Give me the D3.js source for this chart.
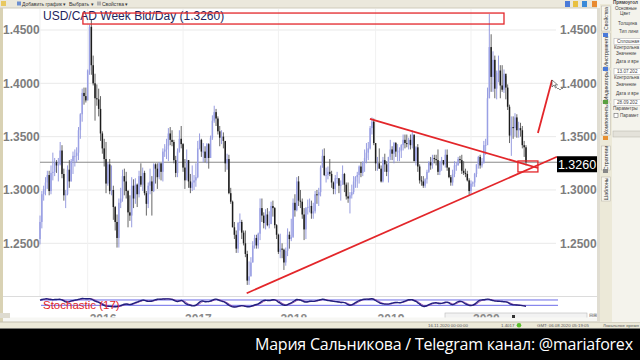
<!DOCTYPE html>
<html>
<head>
<meta charset="utf-8">
<script src="https://cdn.jsdelivr.net/npm/d3@7"></script>
<style>
    body { margin: 0; background: #fff; overflow: hidden; }
    svg { display: block; font-family: "Liberation Sans", Arial, sans-serif; }
</style>
</head>
<body>
<svg id="chart" width="640" height="360"></svg>
<script>
// USD/CAD weekly bars, one entry per week: [high, low, close]. Open is the previous close.
const firstOpen = 1.2540;
const weeks2015 = [
    [1.2760, 1.2490, 1.2700], [1.2990, 1.2640, 1.2960], [1.3040, 1.2900, 1.3010], [1.3120, 1.2950, 1.3070],
    [1.3180, 1.3010, 1.3140], [1.3180, 1.2950, 1.2990], [1.3230, 1.2960, 1.3160], [1.3350, 1.3090, 1.3170],
    [1.3300, 1.3130, 1.3260], [1.3280, 1.3160, 1.3230], [1.3300, 1.3080, 1.3240], [1.3450, 1.3230, 1.3370],
    [1.3420, 1.3110, 1.3150], [1.3200, 1.2900, 1.2950], [1.3000, 1.2830, 1.2960], [1.3230, 1.2950, 1.3190],
    [1.3280, 1.3020, 1.3080], [1.3290, 1.3080, 1.3270], [1.3360, 1.3150, 1.3320], [1.3380, 1.3220, 1.3320],
    [1.3400, 1.3260, 1.3350], [1.3590, 1.3280, 1.3560], [1.3720, 1.3480, 1.3710], [1.3950, 1.3640, 1.3910],
    [1.3960, 1.3800, 1.3880], [1.3960, 1.3820, 1.3840]
];
const weeks2016 = [
    [1.4130, 1.3840, 1.4120], [1.4550, 1.4080, 1.4530], [1.4600, 1.4080, 1.4170], [1.4260, 1.3980, 1.4000],
    [1.4090, 1.3650, 1.3860], [1.3990, 1.3790, 1.3850], [1.3950, 1.3690, 1.3760], [1.3880, 1.3460, 1.3530],
    [1.3550, 1.3340, 1.3390], [1.3480, 1.3220, 1.3290], [1.3450, 1.2970, 1.3060], [1.3260, 1.3040, 1.3240],
    [1.3290, 1.2960, 1.2990], [1.3230, 1.2950, 1.3000], [1.3040, 1.2720, 1.2840], [1.2850, 1.2620, 1.2700],
    [1.2770, 1.2460, 1.2550], [1.2920, 1.2460, 1.2880], [1.3020, 1.2830, 1.2920], [1.3190, 1.2890, 1.3130],
    [1.3200, 1.2950, 1.3080], [1.3170, 1.2920, 1.2990], [1.3000, 1.2650, 1.2790], [1.2950, 1.2710, 1.2760],
    [1.3120, 1.2650, 1.3040], [1.3100, 1.2830, 1.2920], [1.3110, 1.2870, 1.3050], [1.3060, 1.2840, 1.2960],
    [1.3180, 1.2930, 1.3130], [1.3250, 1.3030, 1.3050], [1.3210, 1.2990, 1.3160], [1.3180, 1.2950, 1.2970],
    [1.2990, 1.2760, 1.2870], [1.3070, 1.2830, 1.3040], [1.3200, 1.2960, 1.3080], [1.3130, 1.2760, 1.2990],
    [1.3250, 1.2980, 1.3240], [1.3250, 1.3060, 1.3200], [1.3250, 1.3010, 1.3120], [1.3260, 1.3100, 1.3250],
    [1.3250, 1.3090, 1.3170], [1.3390, 1.3080, 1.3360], [1.3430, 1.3310, 1.3380], [1.3480, 1.3290, 1.3410],
    [1.3580, 1.3270, 1.3530], [1.3590, 1.3420, 1.3470], [1.3560, 1.3410, 1.3450], [1.3470, 1.3250, 1.3280],
    [1.3320, 1.3120, 1.3160], [1.3390, 1.3120, 1.3360], [1.3560, 1.3350, 1.3480], [1.3600, 1.3390, 1.3430]
];
const weeks2017 = [
    [1.3440, 1.3170, 1.3210], [1.3290, 1.3010, 1.3090], [1.3380, 1.3110, 1.3280], [1.3280, 1.3020, 1.3080],
    [1.3150, 1.2970, 1.3020], [1.3230, 1.2990, 1.3070], [1.3140, 1.3000, 1.3090], [1.3250, 1.3030, 1.3120],
    [1.3460, 1.3110, 1.3390], [1.3530, 1.3380, 1.3470], [1.3480, 1.3310, 1.3360], [1.3440, 1.3260, 1.3360],
    [1.3410, 1.3260, 1.3300], [1.3440, 1.3250, 1.3430], [1.3440, 1.3200, 1.3300], [1.3510, 1.3300, 1.3490],
    [1.3700, 1.3470, 1.3650], [1.3790, 1.3630, 1.3730], [1.3760, 1.3600, 1.3670], [1.3690, 1.3520, 1.3550],
    [1.3600, 1.3410, 1.3490], [1.3560, 1.3430, 1.3500], [1.3540, 1.3390, 1.3460], [1.3450, 1.3170, 1.3250],
    [1.3340, 1.3190, 1.3290], [1.3330, 1.2960, 1.2970], [1.3020, 1.2870, 1.2890], [1.2900, 1.2650, 1.2650],
    [1.2700, 1.2540, 1.2580], [1.2620, 1.2410, 1.2450], [1.2700, 1.2410, 1.2690], [1.2780, 1.2620, 1.2700],
    [1.2720, 1.2540, 1.2600], [1.2620, 1.2480, 1.2500], [1.2620, 1.2370, 1.2400], [1.2430, 1.2110, 1.2150],
    [1.2330, 1.2110, 1.2190], [1.2370, 1.2190, 1.2320], [1.2520, 1.2320, 1.2480], [1.2580, 1.2450, 1.2550],
    [1.2580, 1.2450, 1.2480], [1.2600, 1.2450, 1.2590], [1.2920, 1.2530, 1.2830], [1.2920, 1.2700, 1.2760],
    [1.2790, 1.2640, 1.2690], [1.2820, 1.2630, 1.2770], [1.2830, 1.2660, 1.2670], [1.2800, 1.2640, 1.2680],
    [1.2890, 1.2680, 1.2850], [1.2900, 1.2750, 1.2830], [1.2840, 1.2640, 1.2670], [1.2680, 1.2540, 1.2580]
];
const weeks2018 = [
    [1.2590, 1.2400, 1.2420], [1.2590, 1.2360, 1.2450], [1.2500, 1.2360, 1.2440], [1.2450, 1.2250, 1.2320],
    [1.2460, 1.2290, 1.2430], [1.2640, 1.2380, 1.2580], [1.2610, 1.2450, 1.2540], [1.2730, 1.2520, 1.2560],
    [1.2920, 1.2550, 1.2880], [1.2960, 1.2750, 1.2810], [1.3120, 1.2800, 1.3080], [1.3130, 1.2850, 1.2900],
    [1.3000, 1.2830, 1.2890], [1.2920, 1.2730, 1.2770], [1.2830, 1.2530, 1.2630], [1.2840, 1.2540, 1.2830],
    [1.2910, 1.2770, 1.2840], [1.2920, 1.2790, 1.2850], [1.2900, 1.2730, 1.2780], [1.2880, 1.2730, 1.2800],
    [1.2990, 1.2780, 1.2960], [1.3000, 1.2870, 1.2950], [1.3020, 1.2850, 1.2980], [1.3230, 1.2940, 1.3210],
    [1.3380, 1.3210, 1.3320], [1.3390, 1.3130, 1.3140], [1.3210, 1.3070, 1.3140], [1.3220, 1.3100, 1.3170],
    [1.3290, 1.3130, 1.3150], [1.3180, 1.3020, 1.3070], [1.3080, 1.2960, 1.3010], [1.3140, 1.2960, 1.3110],
    [1.3170, 1.3060, 1.3110], [1.3110, 1.2970, 1.3040], [1.3090, 1.2900, 1.3050], [1.3230, 1.3050, 1.3150],
    [1.3160, 1.2980, 1.3050], [1.3070, 1.2910, 1.2940], [1.3070, 1.2880, 1.2920], [1.2980, 1.2780, 1.2950],
    [1.3050, 1.2920, 1.2980], [1.3130, 1.2960, 1.3080], [1.3130, 1.3020, 1.3120], [1.3170, 1.3020, 1.3140],
    [1.3230, 1.3060, 1.3220], [1.3260, 1.3120, 1.3160], [1.3270, 1.3130, 1.3260], [1.3380, 1.3170, 1.3300],
    [1.3440, 1.3250, 1.3350], [1.3450, 1.3280, 1.3390], [1.3600, 1.3380, 1.3580], [1.3680, 1.3520, 1.3640],
    [1.3670, 1.3420, 1.3440]
];
const weeks2019 = [
    [1.3410, 1.3180, 1.3250], [1.3310, 1.3180, 1.3250], [1.3390, 1.3200, 1.3200], [1.3230, 1.3070, 1.3080],
    [1.3310, 1.3070, 1.3280], [1.3340, 1.3170, 1.3240], [1.3270, 1.3130, 1.3170], [1.3310, 1.3070, 1.3310],
    [1.3470, 1.3280, 1.3380], [1.3410, 1.3280, 1.3340], [1.3450, 1.3250, 1.3440], [1.3450, 1.3310, 1.3360],
    [1.3430, 1.3270, 1.3360], [1.3400, 1.3270, 1.3370], [1.3430, 1.3300, 1.3420], [1.3520, 1.3370, 1.3470],
    [1.3520, 1.3390, 1.3440], [1.3520, 1.3400, 1.3430], [1.3490, 1.3380, 1.3470], [1.3520, 1.3380, 1.3420],
    [1.3560, 1.3390, 1.3520], [1.3510, 1.3270, 1.3270], [1.3410, 1.3230, 1.3400], [1.3430, 1.3170, 1.3220],
    [1.3240, 1.3060, 1.3090], [1.3130, 1.3040, 1.3080], [1.3130, 1.3020, 1.3040], [1.3110, 1.3020, 1.3100],
    [1.3190, 1.3060, 1.3170], [1.3270, 1.3160, 1.3260], [1.3310, 1.3190, 1.3230], [1.3330, 1.3200, 1.3300],
    [1.3330, 1.3250, 1.3290], [1.3330, 1.3230, 1.3280], [1.3380, 1.3140, 1.3170], [1.3260, 1.3140, 1.3270],
    [1.3310, 1.3180, 1.3280], [1.3280, 1.3230, 1.3240], [1.3380, 1.3210, 1.3330], [1.3380, 1.3180, 1.3210],
    [1.3210, 1.3110, 1.3120], [1.3140, 1.3040, 1.3070], [1.3190, 1.3040, 1.3150], [1.3270, 1.3120, 1.3230],
    [1.3260, 1.3180, 1.3230], [1.3310, 1.3230, 1.3290], [1.3320, 1.3250, 1.3280], [1.3330, 1.3150, 1.3180],
    [1.3270, 1.3140, 1.3160], [1.3200, 1.3120, 1.3150], [1.3180, 1.3080, 1.3090], [1.3110, 1.2950, 1.2990]
];
const weeks2020 = [
    [1.3090, 1.2960, 1.3060], [1.3080, 1.3030, 1.3070], [1.3160, 1.3030, 1.3150], [1.3240, 1.3120, 1.3240],
    [1.3320, 1.3200, 1.3310], [1.3330, 1.3200, 1.3230], [1.3300, 1.3210, 1.3250], [1.3460, 1.3250, 1.3420],
    [1.3480, 1.3330, 1.3420], [1.3960, 1.3430, 1.3860], [1.4650, 1.3860, 1.4340], [1.4460, 1.3920, 1.4060],
    [1.4300, 1.3920, 1.4220], [1.4260, 1.3860, 1.3950], [1.4120, 1.3850, 1.4100], [1.4260, 1.4010, 1.4120],
    [1.4170, 1.3860, 1.3980], [1.4170, 1.3920, 1.3940], [1.4130, 1.3910, 1.4090], [1.4070, 1.3850, 1.3960],
    [1.3990, 1.3750, 1.3780], [1.3800, 1.3440, 1.3510], [1.3690, 1.3320, 1.3590], [1.3690, 1.3480, 1.3580],
    [1.3720, 1.3500, 1.3680], [1.3710, 1.3490, 1.3560], [1.3640, 1.3490, 1.3580], [1.3630, 1.3500, 1.3560],
    [1.3600, 1.3390, 1.3420], [1.3460, 1.3310, 1.3400], [1.3420, 1.3230, 1.3260]
];

const years = [2015, 2016, 2017, 2018, 2019, 2020];
const priceTicks = [1.45, 1.40, 1.35, 1.30, 1.25];
const lastPrice = 1.3260;
const stochPeriod = 17;
const stochLevels = [80, 20];

// hand drawn objects on the chart, as [week index, price]
const zoneBox = [[23.4, 1.4659], [253.0, 1.4556]];
const upperLine = [[179.9, 1.3666], [271.5, 1.3206]];
const lowerLine = [[112.7, 1.2032], [281.9, 1.3312]];
const targetBox = [[260.6, 1.3272], [271.5, 1.3169]];
const arrowLine = [[271.5, 1.3534], [279.2, 1.4031]];

const svg = d3.select('#chart');

// flatten the years into bars
const yearData = [weeks2015, weeks2016, weeks2017, weeks2018, weeks2019, weeks2020];
const bars = [];
const yearStart = [];
let prevClose = firstOpen;
yearData.forEach(function (weeks, k) {
    yearStart.push({ year: years[k], index: bars.length });
    weeks.forEach(function (w) {
        bars.push({ i: bars.length, open: prevClose, high: w[0], low: w[1], close: w[2] });
        prevClose = w[2];
    });
});

const x = d3.scaleLinear().domain([0, bars.length - 1]).range([40, 526]);
const y = d3.scaleLinear().domain([1.25, 1.45]).range([243.3, 30]);
const ys = d3.scaleLinear().domain([0, 100]).range([307.1, 298.2]);

// cut a text down until it fits before the right edge (the panel clips them)
function fitText(sel, right) {
    sel.each(function () {
        const node = this;
        let s = node.textContent;
        const x0 = +node.getAttribute('x');
        while (s.length > 1 && x0 + node.getComputedTextLength() > right) {
            s = s.slice(0, -1);
            node.textContent = s;
        }
    });
}

// window chrome
svg.append('rect').attr('width', 640).attr('height', 360).attr('fill', '#fff');
svg.append('rect').attr('x', 0).attr('y', 0).attr('width', 3).attr('height', 322).attr('fill', '#d9d2b4');

// grid
const grid = svg.append('g');
grid.selectAll('line.h').data(priceTicks).enter().append('line')
    .attr('x1', 40).attr('x2', 556)
    .attr('y1', d => y(d)).attr('y2', d => y(d))
    .attr('stroke', '#e9e9e9');
grid.selectAll('line.v').data(yearStart.slice(1)).enter().append('line')
    .attr('x1', d => x(d.index)).attr('x2', d => x(d.index))
    .attr('y1', 9).attr('y2', 296)
    .attr('stroke', '#f1f1f1');
grid.append('line').attr('x1', 40).attr('x2', 40).attr('y1', 9).attr('y2', 296).attr('stroke', '#efefef');

// price labels left and right
['left', 'right'].forEach(function (side) {
    svg.append('g').selectAll('text').data(priceTicks).enter().append('text')
        .attr('x', side === 'left' ? 3 : 560)
        .attr('y', d => y(d))
        .attr('dy', '0.36em')
        .attr('font-size', 12).attr('font-weight', 'bold')
        .attr('fill', '#7d7d7d')
        .text(d => d.toFixed(4));
});

// current price line
svg.append('line')
    .attr('x1', 40).attr('x2', 557)
    .attr('y1', y(lastPrice)).attr('y2', y(lastPrice))
    .attr('stroke', '#8a8a8a');

// candles
const up = '#9aa0e4', down = '#1c1c1c';
const candles = svg.append('g').selectAll('g').data(bars).enter().append('g');
candles.append('line')
    .attr('x1', d => x(d.i)).attr('x2', d => x(d.i))
    .attr('y1', d => y(d.high)).attr('y2', d => y(d.low))
    .attr('stroke', d => d.close >= d.open ? '#8c92dc' : '#555')
    .attr('stroke-width', 0.9);
candles.append('rect')
    .attr('x', d => x(d.i) - 0.75)
    .attr('width', 1.5)
    .attr('y', d => y(Math.max(d.open, d.close)))
    .attr('height', d => Math.max(0.8, Math.abs(y(d.open) - y(d.close))))
    .attr('fill', d => d.close >= d.open ? up : down);

// title
svg.append('text')
    .attr('x', 43).attr('y', 20)
    .attr('font-size', 12)
    .attr('fill', '#1f1f5c')
    .text('USD/CAD Week Bid/Day (' + lastPrice.toFixed(4) + ')');

// annotations
const red = '#e3262a';
function boxOf(b) {
    return {
        x: x(b[0][0]), y: y(b[0][1]),
        w: x(b[1][0]) - x(b[0][0]), h: y(b[1][1]) - y(b[0][1])
    };
}
[zoneBox, targetBox].forEach(function (b) {
    const r = boxOf(b);
    svg.append('rect').attr('x', r.x).attr('y', r.y).attr('width', r.w).attr('height', r.h)
        .attr('fill', 'none').attr('stroke', red).attr('stroke-width', 1.3);
});
const seg = d3.line().x(d => x(d[0])).y(d => y(d[1]));
[upperLine, lowerLine, arrowLine].forEach(function (l) {
    svg.append('path').attr('d', seg(l))
        .attr('fill', 'none').attr('stroke', red).attr('stroke-width', 1.8);
});
// mouse pointer left next to the arrow
const tip = arrowLine[1];
svg.append('path')
    .attr('transform', 'translate(' + x(tip[0]) + ',' + y(tip[1]) + ')')
    .attr('d', 'M0,0 L0,7 L2,5 L3.5,8 L4.5,7.5 L3,4.8 L5.5,4.8 Z')
    .attr('fill', '#fff').attr('stroke', '#333').attr('stroke-width', 0.6);
svg.append('path')
    .attr('transform', 'translate(' + x(tip[0]) + ',' + y(tip[1]) + ')')
    .attr('d', 'M5,9 q1,-2 2,0 q1,2 2,0 q1,-2 2,0')
    .attr('fill', 'none').attr('stroke', '#555').attr('stroke-width', 0.7);

// last price box
svg.append('rect').attr('x', 557).attr('y', y(lastPrice) - 6).attr('width', 40).attr('height', 16).attr('fill', '#000');
svg.append('text').attr('x', 577).attr('y', y(lastPrice) + 2).attr('dy', '0.36em')
    .attr('text-anchor', 'middle').attr('font-size', 12.5).attr('fill', '#fff')
    .text(lastPrice.toFixed(4));

// stochastic panel
svg.append('line').attr('x1', 3).attr('x2', 597).attr('y1', 296.5).attr('y2', 296.5).attr('stroke', '#dcdcdc');
const rawK = bars.map(function (b, i) {
    const win = bars.slice(Math.max(0, i - stochPeriod + 1), i + 1);
    const hh = d3.max(win, d => d.high), ll = d3.min(win, d => d.low);
    return hh === ll ? 50 : (b.close - ll) / (hh - ll) * 100;
});
const sma = (arr, n) => arr.map((v, i) => d3.mean(arr.slice(Math.max(0, i - n + 1), i + 1)));
const kLine = sma(rawK, 3);
const dLine = sma(kLine, 3);
svg.append('g').selectAll('line').data(stochLevels).enter().append('line')
    .attr('x1', 41).attr('x2', 558)
    .attr('y1', d => ys(d)).attr('y2', d => ys(d))
    .attr('stroke', '#5a5ae6').attr('stroke-width', 0.9);
const stochLine = d3.line().x((d, i) => x(i)).y(d => ys(d)).curve(d3.curveBasis);
svg.append('path').attr('d', stochLine(dLine)).attr('fill', 'none').attr('stroke', '#9a4aa8').attr('stroke-width', 1);
svg.append('path').attr('d', stochLine(kLine)).attr('fill', 'none').attr('stroke', '#20207e').attr('stroke-width', 1.4);
svg.append('text').attr('x', 43).attr('y', 309.3)
    .attr('font-size', 11.5).attr('fill', red)
    .text('Stochastic (' + stochPeriod + ')');

// time axis: scrollbar track, year labels cut by the strip under them
svg.append('rect').attr('x', 445).attr('y', 313).attr('width', 142).attr('height', 6)
    .attr('fill', '#f2f2f2').attr('stroke', '#b8b8b8').attr('stroke-width', 0.6);
svg.append('clipPath').attr('id', 'axisClip')
    .append('rect').attr('x', 3).attr('y', 312).attr('width', 594).attr('height', 5.5);
svg.append('g').attr('clip-path', 'url(#axisClip)')
    .selectAll('text').data(yearStart.slice(1)).enter().append('text')
    .attr('x', d => x(d.index) + 2).attr('y', 323)
    .attr('font-size', 12).attr('font-weight', 'bold').attr('fill', '#8a8a8a')
    .text(d => d.year);
svg.append('rect').attr('x', 3).attr('y', 317.5).attr('width', 594).attr('height', 4.5).attr('fill', '#f7f7f4');
svg.append('rect').attr('x', 512).attr('y', 315).attr('width', 3).attr('height', 3).attr('fill', '#333');
svg.append('rect').attr('x', 0).attr('y', 313).attr('width', 10).attr('height', 5).attr('fill', '#dedbd0');
svg.append('text').attr('x', 589).attr('y', 317).attr('font-size', 4.5).attr('fill', '#666').text('⊟⊞');

// status bar
svg.append('rect').attr('x', 0).attr('y', 322).attr('width', 640).attr('height', 6.5).attr('fill', '#ece9d8');
svg.append('line').attr('x1', 0).attr('x2', 640).attr('y1', 322).attr('y2', 322).attr('stroke', '#c4c0b0');
const statusItems = [[428, '16.11.2020 00:00:00'], [501, '1.4017'], [537, 'GMT: 06.08.2020 05:19:05'], [603, 'Локальное время']];
svg.append('g').selectAll('text').data(statusItems).enter().append('text')
    .attr('x', d => d[0]).attr('y', 327.2).attr('font-size', 4.4).attr('fill', '#555')
    .text(d => d[1])
    .call(fitText, 639);
svg.append('circle').attr('cx', 519).attr('cy', 325.3).attr('r', 2.3).attr('fill', '#5cc02c');

// toolbar
svg.append('rect').attr('x', 0).attr('y', 0).attr('width', 600).attr('height', 8).attr('fill', '#ebe8dc');
svg.append('line').attr('x1', 0).attr('x2', 600).attr('y1', 8).attr('y2', 8).attr('stroke', '#cfcbbb');
svg.append('rect').attr('x', 1).attr('y', 1).attr('width', 5).attr('height', 5).attr('fill', '#e8c860');
const tools = [[22, 'Добавить график ▾', '#6d8fd0'], [69, 'Выбрать ▾', null], [102, 'Свойства ▾', '#b0b0b0']];
tools.forEach(function (t) {
    if (t[2]) svg.append('rect').attr('x', t[0] - 5).attr('y', 1.5).attr('width', 4).attr('height', 4).attr('fill', t[2]);
    svg.append('text').attr('x', t[0]).attr('y', 6).attr('font-size', 5).attr('fill', '#333').text(t[1]);
});
[[565, '#4a7ad8'], [573, '#e8c040'], [582, '#3a8ad8'], [592, '#e88a30']].forEach(function (c) {
    svg.append('rect').attr('x', c[0]).attr('y', 1).attr('width', 5).attr('height', 6).attr('fill', c[1]);
});

// right side panel
svg.append('rect').attr('x', 597).attr('y', 0).attr('width', 43).attr('height', 322).attr('fill', '#f4f3ec');
svg.append('rect').attr('x', 597).attr('y', 8).attr('width', 3).attr('height', 314).attr('fill', '#e0ddd2');
svg.append('rect').attr('x', 600).attr('y', 4).attr('width', 12).attr('height', 318).attr('fill', '#ece9d8');
const tabs = [['Свойства', 6, 31], ['Инструменты', 33, 68], ['Индикаторы', 70, 101], ['Компоненты', 103, 135],
    ['Стратегии', 146, 170], ['Шаблоны', 177, 201]];
tabs.forEach(function (t) {
    svg.append('rect').attr('x', 601.5).attr('y', t[1]).attr('width', 9).attr('height', t[2] - t[1])
        .attr('fill', '#f7f6f0').attr('stroke', '#b9b5a6').attr('stroke-width', 0.5);
    const cy = (t[1] + t[2]) / 2;
    svg.append('text').attr('transform', 'translate(608,' + cy + ') rotate(-90)')
        .attr('text-anchor', 'middle').attr('font-size', 5.2).attr('fill', '#333').text(t[0]);
});
[[36, '#4a7ad8'], [70, '#4a7ad8'], [103, '#5aa040'], [139, '#e89030'], [172, '#888']].forEach(function (c) {
    svg.append('rect').attr('x', 603).attr('y', c[0] - 3).attr('width', 5).attr('height', 4).attr('fill', c[1]);
});
const props = [[613, 4, 'Прямоугольник', true], [615, 10, 'Основные'], [620, 15, 'Цвет'], [618, 25, 'Толщина линии'],
    [619, 33, 'Тип линии'], [617, 43, 'Сплошная'], [614, 49, 'Контрольная'], [616, 55, 'Значение'],
    [616, 63, 'Дата и время'], [617, 73, '13.07.2020'], [614, 79, 'Контрольная'], [616, 86, 'Значение'],
    [616, 95, 'Дата и время'], [617, 104, '28.09.2020'], [613, 110, 'Параметры линии'], [620, 117, 'Параметр']];
[38.5, 68.5, 99.5].forEach(function (yy) {
    svg.append('rect').attr('x', 614).attr('y', yy).attr('width', 27).attr('height', 6)
        .attr('fill', '#fff').attr('stroke', '#a9a9a9').attr('stroke-width', 0.5);
});
svg.append('g').selectAll('text').data(props).enter().append('text')
    .attr('x', d => d[0]).attr('y', d => d[1]).attr('font-size', 4.6)
    .attr('font-weight', d => d[3] ? 'bold' : 'normal').attr('fill', '#444')
    .text(d => d[2])
    .call(fitText, 639.5);
svg.append('rect').attr('x', 614).attr('y', 113.5).attr('width', 4).attr('height', 4)
    .attr('fill', '#fff').attr('stroke', '#555').attr('stroke-width', 0.5);
svg.append('rect').attr('x', 613).attr('y', 131).attr('width', 28).attr('height', 6)
    .attr('fill', '#e4e2da').attr('stroke', '#b5b2a6').attr('stroke-width', 0.5);

// caption banner
svg.append('rect').attr('x', 0).attr('y', 328.5).attr('width', 640).attr('height', 32).attr('fill', '#000');
svg.append('text').attr('x', 255).attr('y', 350)
    .attr('font-family', '"Open Sans", "DejaVu Sans", sans-serif')
    .attr('font-size', 16).attr('fill', '#fff')
    .attr('textLength', 378).attr('lengthAdjust', 'spacing')
    .text('Мария Сальникова / Telegram канал: @mariaforex');
</script>
</body>
</html>
